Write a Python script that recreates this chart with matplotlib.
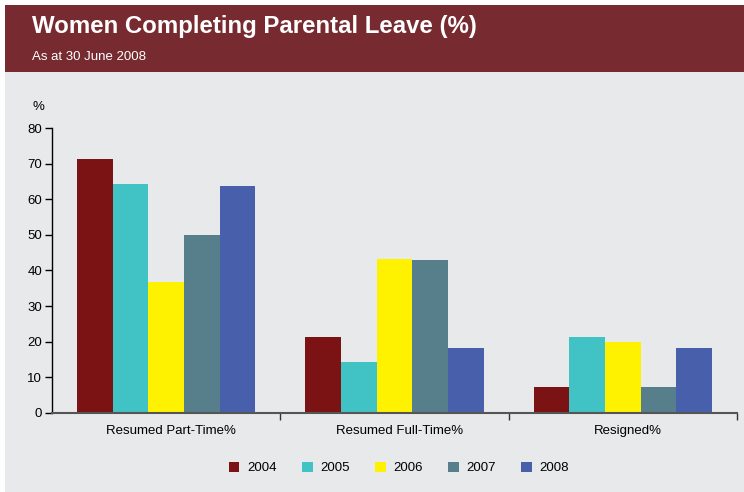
import matplotlib.pyplot as plt
from matplotlib.patches import Rectangle
from matplotlib.transforms import ScaledTranslation
import numpy as np

categories = ["Resumed Part-Time%", "Resumed Full-Time%", "Resigned%"]
years = ["2004", "2005", "2006", "2007", "2008"]
values = {
    "2004": [71.4, 21.3, 7.2],
    "2005": [64.3, 14.3, 21.3],
    "2006": [36.7, 43.2, 19.9],
    "2007": [50.0, 42.9, 7.2],
    "2008": [63.8, 18.2, 18.2],
}
colors = ["#7B1214", "#41C2C5", "#FFF200", "#567F8B", "#4860AC"]
yticks = [0, 10, 20, 30, 40, 50, 60, 70, 80]

plt.rcParams["font.family"] = ["Liberation Sans", "DejaVu Sans"]

W, H = 744, 492
fig = plt.figure(figsize=(W / 100, H / 100), dpi=100)
fig.patch.set_facecolor("white")

# panel background and header band
fig.patches.append(Rectangle((5 / W, 0), 1, 1 - 5 / H, transform=fig.transFigure,
                             facecolor="#E8E9EB", edgecolor="none", zorder=-2))
fig.patches.append(Rectangle((5 / W, 1 - 72 / H), 1, 67 / H, transform=fig.transFigure,
                             facecolor="#772B30", edgecolor="none", zorder=-1))
fig.text(32 / W, 1 - 33.5 / H, "Women Completing Parental Leave (%)", color="white",
         fontsize=17.3, fontweight="bold", va="baseline", ha="left")
fig.text(32 / W, 1 - 59.5 / H, "As at 30 June 2008", color="white",
         fontsize=9.5, va="baseline", ha="left")

ax = fig.add_axes([52 / W, 1 - 412.7 / H, (737 - 52) / W, (412.7 - 128.3) / H])
ax.set_facecolor("none")

n = len(years)
bw = 0.78 / n
x = np.arange(len(categories)) + 0.5
for i, (yr, c) in enumerate(zip(years, colors)):
    ax.bar(x + (i - (n - 1) / 2) * bw, values[yr], width=bw, color=c,
           edgecolor="none", label=yr, zorder=2)

ax.set_xlim(0, 3)
ax.set_ylim(0, 80)
ax.set_yticks(yticks)
ax.tick_params(axis="y", direction="out", length=5, width=1, labelsize=9.5, pad=2, colors="black")
ax.set_xticks(x)
ax.set_xticklabels(categories)
ax.tick_params(axis="x", which="major", length=0, labelsize=9.5, pad=9)
ax.set_xticks([1, 2, 3], minor=True)
ax.tick_params(axis="x", which="minor", direction="out", length=5, width=1, color="#333333")
shift = ScaledTranslation(5 / 100, 0, fig.dpi_scale_trans)
for lbl in ax.get_xticklabels():
    lbl.set_transform(lbl.get_transform() + shift)

for s in ["top", "right"]:
    ax.spines[s].set_visible(False)
ax.spines["left"].set_color("black")
ax.spines["left"].set_linewidth(1)
ax.spines["bottom"].set_color("#555555")
ax.spines["bottom"].set_linewidth(1.5)
ax.spines["bottom"].set_zorder(3)

fig.text(38.5 / W, 1 - 107 / H, "%", fontsize=9.5, ha="center", va="center")

fig.legend(loc="center", bbox_to_anchor=(399 / W, 1 - 468 / H), ncol=5, frameon=False,
           fontsize=9.5, handlelength=0.8, handleheight=0.8, columnspacing=1.9,
           handletextpad=0.6)

fig.savefig("out.png", dpi=100, facecolor=fig.get_facecolor())
